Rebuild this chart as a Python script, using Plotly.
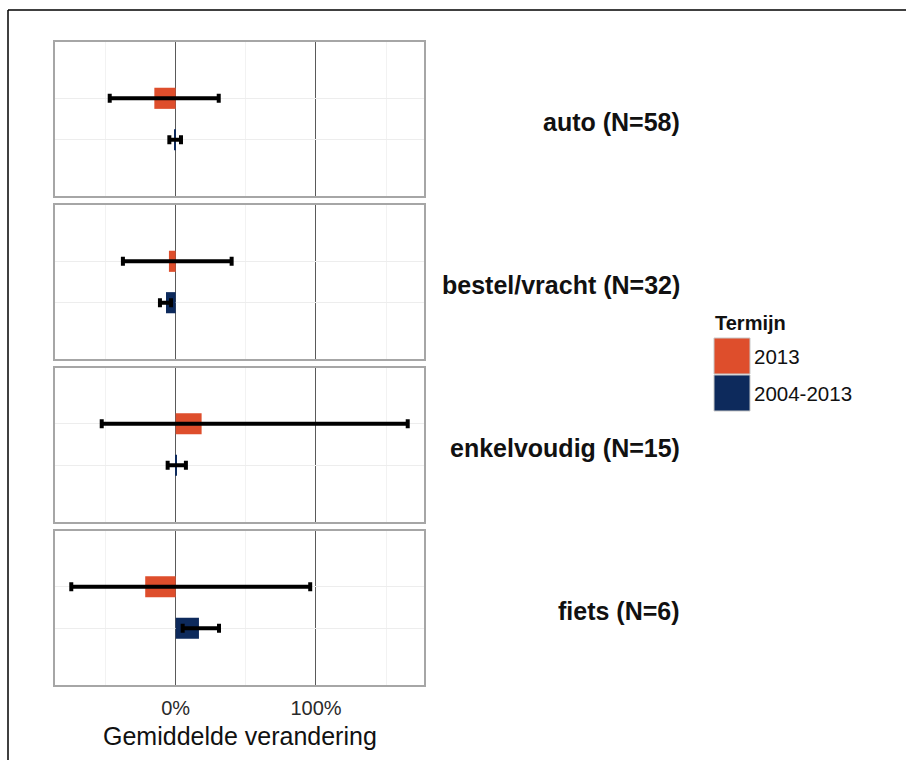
import plotly.graph_objects as go

# Mean change per vehicle type, two time spans, with interval bounds
groups = ["auto (N=58)", "bestel/vracht (N=32)", "enkelvoudig (N=15)", "fiets (N=6)"]
terms = ["2013", "2004-2013"]
colors = {"2013": "#DE4E2C", "2004-2013": "#0D2A5C"}

mean_2013 = [-0.152, -0.048, 0.185, -0.217]
low_2013 = [-0.47, -0.376, -0.527, -0.744]
high_2013 = [0.307, 0.399, 1.654, 0.959]

mean_long = [-0.005, -0.069, 0.004, 0.166]
low_long = [-0.045, -0.112, -0.057, 0.05]
high_long = [0.038, -0.033, 0.073, 0.309]

x_ticks = [0, 1]
x_tick_text = ["0%", "100%"]
x_minor = [-0.5, 0.5, 1.5]

W, H = 906, 760
# panel pixel extents (top, bottom)
panels = [(42, 196), (205, 359), (367.5, 521.5), (530.5, 684.5)]
x_px = (55, 424)

series = {
    "2013": (mean_2013, low_2013, high_2013, 1),
    "2004-2013": (mean_long, low_long, high_long, 0),
}

fig = go.Figure()
for i, g in enumerate(groups):
    ax = "" if i == 0 else str(i + 1)
    for t in terms:
        m, lo, hi, ypos = series[t]
        fig.add_trace(go.Bar(
            x=[m[i]], y=[ypos], orientation="h", width=0.51,
            marker=dict(color=colors[t], line=dict(width=0)),
            error_x=dict(type="data", symmetric=False,
                         array=[hi[i] - m[i]], arrayminus=[m[i] - lo[i]],
                         color="black", thickness=4, width=4.5),
            xaxis="x" + ax, yaxis="y" + ax, showlegend=False,
        ))
    top, bot = panels[i]
    fig.layout["xaxis" + ax] = dict(
        domain=[x_px[0] / W, x_px[1] / W], range=[-0.86, 1.77],
        anchor="y" + ax, tickvals=x_ticks, ticktext=x_tick_text,
        showticklabels=(i == 3), tickfont=dict(size=20, color="#2a2a2a"),
        showgrid=True, gridcolor="#5a5a5a", gridwidth=1, zeroline=False,
        minor=dict(tickvals=x_minor, showgrid=True, gridcolor="#F2F2F2", gridwidth=1),
        showline=True, mirror=True, linecolor="#A6A6A6", linewidth=1.5,
        ticks="outside", ticklen=5, tickcolor="rgba(0,0,0,0)",
        automargin=False, fixedrange=True,
    )
    fig.layout["yaxis" + ax] = dict(
        domain=[1 - bot / H, 1 - top / H], range=[-1.36, 2.36],
        anchor="x" + ax, tickvals=[0, 1], showticklabels=False,
        showgrid=True, gridcolor="#EDEDED", gridwidth=1, zeroline=False,
        showline=True, mirror=True, linecolor="#A6A6A6", linewidth=1.5,
        ticks="", automargin=False, fixedrange=True,
    )
    fig.add_annotation(
        x=682 / W, y=1 - ((top + bot) / 2 + 3) / H, xref="paper", yref="paper",
        text="<b>" + g + "</b>", showarrow=False, xanchor="right", yanchor="middle",
        font=dict(size=25, color="#111111"),
    )

# x axis title
fig.add_annotation(
    x=(x_px[0] + x_px[1]) / 2 / W, y=1 - 736 / H, xref="paper", yref="paper",
    text="Gemiddelde verandering", showarrow=False, xanchor="center", yanchor="middle",
    font=dict(size=25, color="#111111"),
)

# legend
fig.add_annotation(
    x=713 / W, y=1 - 323 / H, xref="paper", yref="paper", text="<b>Termijn</b>",
    showarrow=False, xanchor="left", yanchor="middle", font=dict(size=20, color="#111111"),
)
key_top = 338
for k, t in enumerate(terms):
    y0 = key_top + k * 37
    fig.add_shape(type="rect", xref="paper", yref="paper",
                  x0=714 / W, x1=750 / W, y0=1 - (y0 + 36) / H, y1=1 - y0 / H,
                  fillcolor=colors[t], line=dict(color="#C8C8C8", width=1))
    fig.add_annotation(
        x=752 / W, y=1 - (y0 + 18) / H, xref="paper", yref="paper", text=t,
        showarrow=False, xanchor="left", yanchor="middle", font=dict(size=20.5, color="#111111"),
    )

# outer frame lines
fig.add_shape(type="line", xref="paper", yref="paper", x0=8 / W, x1=1, y0=1 - 10 / H, y1=1 - 10 / H,
              line=dict(color="black", width=1.5))
fig.add_shape(type="line", xref="paper", yref="paper", x0=8 / W, x1=8 / W, y0=0, y1=1 - 10 / H,
              line=dict(color="black", width=1.5))

fig.update_layout(
    width=W, height=H, margin=dict(l=0, r=0, t=0, b=0),
    paper_bgcolor="white", plot_bgcolor="white",
    font=dict(family="Liberation Sans, Arial, sans-serif"),
    barmode="overlay", showlegend=False,
)

fig.write_html("out.html")
